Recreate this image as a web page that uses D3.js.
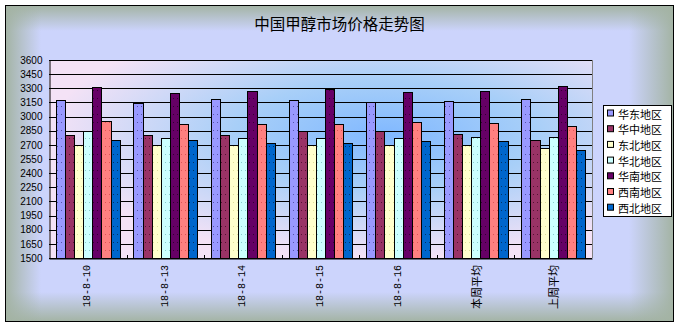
<!DOCTYPE html>
<html><head><meta charset="utf-8">
<script src="https://cdn.jsdelivr.net/npm/d3@7"></script>
<style>
html,body{margin:0;padding:0;background:#fff;}
svg{display:block;}
</style></head>
<body>
<svg id="chart" width="681" height="328"></svg>
<script>
const title = "中国甲醇市场价格走势图";
const categories = ["18-8-10","18-8-13","18-8-14","18-8-15","18-8-16","本周平均","上周平均"];
const seriesNames = ["华东地区","华中地区","东北地区","华北地区","华南地区","西南地区","西北地区"];
const huadong = [3180, 3140, 3185, 3180, 3150, 3167, 3187];
const huazhong = [2800, 2800, 2800, 2850, 2850, 2820, 2750];
const dongbei = [2700, 2700, 2700, 2700, 2700, 2700, 2670];
const huabei = [2845, 2770, 2770, 2770, 2770, 2785, 2785];
const huanan = [3310, 3250, 3270, 3290, 3260, 3276, 3320];
const xinan = [2950, 2920, 2920, 2920, 2940, 2930, 2900];
const xibei = [2750, 2750, 2720, 2720, 2740, 2736, 2650];
const yTicks = [1500,1650,1800,1950,2100,2250,2400,2550,2700,2850,3000,3150,3300,3450,3600];
const colors = ["#9999ff","#993366","#ffffcc","#ccffff","#660066","#ff8080","#0066cc"];
const dotColors = ["#5555aa","#551133","#dddd99","#88cccc","#330033","#dd5555","#003366"];

const seriesValues = [huadong, huazhong, dongbei, huabei, huanan, xinan, xibei];

const svg = d3.select("#chart");
const defs = svg.append("defs");

// chart background
const W0 = 5, H0 = 5, W1 = 674, H1 = 322;
const edge = "#a3b3a3", mid = "#ccd4fc";
function lin(id, x1,y1,x2,y2){
  const g = defs.append("linearGradient").attr("id",id)
    .attr("x1",x1).attr("y1",y1).attr("x2",x2).attr("y2",y2);
  g.append("stop").attr("offset",0).attr("stop-color",edge).attr("stop-opacity",1);
  g.append("stop").attr("offset",1).attr("stop-color",edge).attr("stop-opacity",0);
}
lin("gTop",0,0,0,1); lin("gBot",0,1,0,0); lin("gLeft",0,0,1,0); lin("gRight",1,0,0,0);

svg.append("rect").attr("x",W0).attr("y",H0).attr("width",W1-W0).attr("height",H1-H0).attr("fill",mid);
svg.append("rect").attr("x",W0).attr("y",H0).attr("width",W1-W0).attr("height",26).attr("fill","url(#gTop)");
svg.append("rect").attr("x",W0).attr("y",H1-30).attr("width",W1-W0).attr("height",30).attr("fill","url(#gBot)");
svg.append("rect").attr("x",W0).attr("y",H0).attr("width",36).attr("height",H1-H0).attr("fill","url(#gLeft)");
svg.append("rect").attr("x",W1-45).attr("y",H0).attr("width",45).attr("height",H1-H0).attr("fill","url(#gRight)");
svg.append("rect").attr("x",W0+0.5).attr("y",H0+0.5).attr("width",W1-W0-1).attr("height",H1-H0-1)
  .attr("fill","none").attr("stroke","#000");

// title
svg.append("text").attr("x",(W0+W1)/2).attr("y",23).attr("text-anchor","middle")
  .attr("dominant-baseline","central")
  .attr("font-family","'Noto Sans CJK SC', sans-serif").attr("font-size",15.5).attr("fill","#000")
  .text(title);

// plot area
const pLeft = 49, pRight = 592, pTop = 60, pBottom = 258;
const y = d3.scaleLinear().domain([1500,3600]).range([pBottom, pTop]);
const x0 = d3.scaleBand().domain(categories).range([pLeft,pRight]).padding(0);
const x1 = d3.scaleBand().domain(seriesNames).range([0,x0.bandwidth()]).paddingInner(0).paddingOuter(0.75);

const rg = defs.append("radialGradient").attr("id","plotBg").attr("cx",0.62).attr("cy",0.38).attr("r",0.62);
rg.append("stop").attr("offset",0).attr("stop-color","#80b8ff");
rg.append("stop").attr("offset",0.45).attr("stop-color","#a8cff8");
rg.append("stop").attr("offset",1).attr("stop-color","#f4e2f6");
svg.append("rect").attr("x",pLeft).attr("y",pTop).attr("width",pRight-pLeft).attr("height",pBottom-pTop)
  .attr("fill","url(#plotBg)");

// gridlines
svg.append("g").selectAll("line").data(yTicks).join("line")
  .attr("x1",pLeft).attr("x2",pRight)
  .attr("y1",d=>Math.round(y(d))+0.5).attr("y2",d=>Math.round(y(d))+0.5)
  .attr("stroke","#000").attr("stroke-width",1);

// right border
svg.append("line").attr("x1",pRight+0.5).attr("x2",pRight+0.5).attr("y1",pTop).attr("y2",pBottom)
  .attr("stroke","#808080");

// patterns
seriesNames.forEach((s,i)=>{
  const p = defs.append("pattern").attr("id","pat"+i).attr("patternUnits","userSpaceOnUse")
    .attr("width",4).attr("height",8);
  p.append("rect").attr("width",4).attr("height",8).attr("fill",colors[i]);
  p.append("rect").attr("x",1).attr("y",2).attr("width",1).attr("height",1).attr("fill",dotColors[i]);
});

// bars
const gBars = svg.append("g");
categories.forEach((c,ci)=>{
  seriesNames.forEach((s,si)=>{
    const v = seriesValues[si][ci];
    const bx = Math.round(x0(c) + x1(s));
    const bx2 = Math.round(x0(c) + x1(s) + x1.bandwidth());
    const by = Math.round(y(v));
    gBars.append("rect")
      .attr("x",bx+0.5).attr("y",by+0.5)
      .attr("width",bx2-bx).attr("height",Math.round(y(1500))-by)
      .attr("fill","url(#pat"+si+")").attr("stroke","#000").attr("stroke-width",1);
  });
});

// axes
const yAxis = d3.axisLeft(y).tickValues(yTicks).tickSize(0).tickPadding(7).tickFormat(d3.format("d"));
const gy = svg.append("g").attr("transform",`translate(${pLeft+0.5},0)`).call(yAxis);
gy.select(".domain").attr("stroke","#000");
gy.selectAll("text").attr("font-family","'Liberation Sans', Arial, sans-serif").attr("font-size",10).attr("fill","#000");

const xAxis = d3.axisBottom(x0).tickSize(0).tickFormat("");
const gx = svg.append("g").attr("transform",`translate(0,${pBottom+0.5})`).call(xAxis);
gx.select(".domain").attr("stroke","#000");
// category boundary ticks
svg.append("g").selectAll("line").data(categories.slice(1)).join("line")
  .attr("x1",d=>Math.round(x0(d))+0.5).attr("x2",d=>Math.round(x0(d))+0.5)
  .attr("y1",pBottom-3).attr("y2",pBottom).attr("stroke","#000");

// x labels rotated
svg.append("g").selectAll("text").data(categories).join("text")
  .attr("transform",d=>`translate(${x0(d)+x0.bandwidth()/2},265) rotate(-90)`)
  .attr("text-anchor","end").attr("dominant-baseline","central")
  .attr("font-family",d=>/[\u4e00-\u9fff]/.test(d)?"'Noto Sans CJK SC', sans-serif":"'Liberation Mono', monospace")
  .attr("font-size",d=>/[\u4e00-\u9fff]/.test(d)?11:10)
  .attr("fill","#000")
  .text(d=>d);

// legend
const lx = 603, ly = 105, lw = 68, lh = 111;
svg.append("rect").attr("x",lx+0.5).attr("y",ly+0.5).attr("width",lw).attr("height",lh)
  .attr("fill","#fff").attr("stroke","#000");
const lg = svg.append("g").selectAll("g").data(seriesNames).join("g")
  .attr("transform",(d,i)=>`translate(${lx+4},${ly+8.5+i*15.7})`);
lg.append("rect").attr("x",0.5).attr("y",-3.5).attr("width",6).attr("height",6)
  .attr("fill",(d,i)=>colors[i]).attr("stroke","#000");
lg.append("text").attr("x",11).attr("y",0).attr("dominant-baseline","central")
  .attr("font-family","'Noto Sans CJK SC', sans-serif").attr("font-size",11).attr("fill","#000")
  .text(d=>d);
</script>
</body></html>
